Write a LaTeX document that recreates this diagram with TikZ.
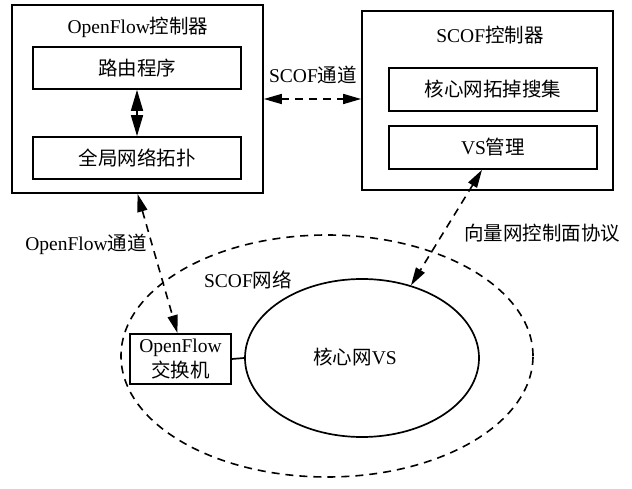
\documentclass[tikz,border=0pt]{standalone}
\usepackage{fontspec}
\setmainfont{Liberation Serif}
\newfontfamily\cjk{Noto Sans CJK SC}
\usetikzlibrary{arrows.meta,shapes.geometric,calc}
\begin{document}
\begin{tikzpicture}[x=1pt,y=-1pt,
  every node/.style={font=\fontsize{19.5}{22}\selectfont},
  box/.style={draw,line width=1.7pt,rectangle,inner sep=0pt},
  lbl/.style={inner sep=0pt},
  dashline/.style={line width=1.6pt,dash pattern=on 8pt off 6pt},
  tips/.style={{Triangle[length=18pt,width=10pt]}-{Triangle[length=18pt,width=10pt]}}]
\useasboundingbox (0,0) rectangle (632,489);
\fill[white] (0,0) rectangle (632,489);

% OpenFlow controller
\node[box,minimum width=251pt,minimum height=188pt] (lbox) at (137.5,99) {};
\node[lbl] (ltitle) at (138,27) {OpenFlow{\cjk 控制器}};
\node[box,minimum width=208pt,minimum height=42pt] (route) at (137,68) {\cjk 路由程序};
\node[box,minimum width=208pt,minimum height=42pt] (topo) at (137,158) {\cjk 全局网络拓扑};
\draw[line width=1.6pt,{Triangle[length=21pt,width=12pt]}-{Triangle[length=21pt,width=12pt]}] (route.south) -- (topo.north);

% SCOF controller
\node[box,minimum width=251pt,minimum height=179pt] (rbox) at (487.5,100.5) {};
\node[lbl] (rtitle) at (490,35) {SCOF{\cjk 控制器}};
\node[box,minimum width=208pt,minimum height=43pt] (gather) at (493,89.5) {\cjk 核心网拓掉搜集};
\node[box,minimum width=208pt,minimum height=43pt] (vsm) at (493,147.5) {VS{\cjk 管理}};

% SCOF network
\node[draw,dashline,ellipse,minimum width=412pt,minimum height=242pt,inner sep=0pt] (net) at (327,356) {};
\node[lbl] (netlbl) at (248,280) {SCOF{\cjk 网络}};
\node[draw,line width=1.7pt,ellipse,minimum width=234pt,minimum height=158pt,inner sep=0pt] (core) at (362,358) {};
\node[lbl] (corelbl) at (355,357) {{\cjk 核心网}VS};
\node[box,minimum width=101pt,minimum height=50pt,align=center,font=\fontsize{19.5}{25}\selectfont] (sw) at (180.5,359) {OpenFlow\\{\cjk 交换机}};
\draw[line width=1.7pt] (sw.east) -- (core.west);

% Channels
\draw[dashline,tips] (lbox.east) -- (lbox.east -| rbox.west);
\node[lbl] (scofch) at (313,75) {SCOF{\cjk 通道}};
\draw[dashline,tips] (lbox.south) -- ($(sw.north)+(-3,0)$);
\node[lbl] (ofch) at (86,244) {OpenFlow{\cjk 通道}};
\draw[dashline,tips] ($(vsm.south)+(-11,0)$) -- (core.56);
\node[lbl] (proto) at (542,233) {\cjk 向量网控制面协议};
\end{tikzpicture}
\end{document}
